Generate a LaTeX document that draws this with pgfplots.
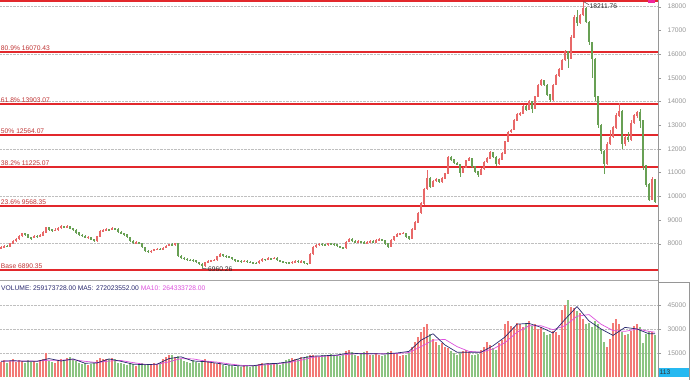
\documentclass[border=0pt]{standalone}
\usepackage{pgfplots}
\pgfplotsset{compat=1.18}
\usepackage{pgfplotstable}
\usepackage{fontspec}
\setmainfont{Liberation Sans}
\definecolor{upc}{RGB}{232,104,104}
\definecolor{dnc}{RGB}{104,160,84}
\definecolor{upv}{RGB}{242,122,118}
\definecolor{dnv}{RGB}{140,196,130}
\definecolor{fibred}{RGB}{226,40,44}
\definecolor{fibtxt}{RGB}{190,50,50}
\definecolor{navy}{RGB}{40,40,110}
\definecolor{ma10}{RGB}{220,80,220}
\definecolor{axgray}{RGB}{150,150,150}
\newcommand{\tf}{\fontsize{6.7}{8}\selectfont}
\pgfplotstableread{
x o h l c v
1 7820 7890 7790 7850 9500
4 7850 7940 7820 7900 10500
7 7900 7950 7840 7880 9000
10 7880 8040 7860 8000 10000
13 8000 8160 7970 8120 11000
16 8120 8250 8090 8200 9500
19 8200 8360 8170 8330 10500
22 8330 8460 8300 8420 10000
25 8420 8470 8340 8380 9000
28 8380 8400 8220 8260 10500
31 8260 8300 8150 8250 9500
34 8250 8360 8220 8320 10000
37 8320 8370 8250 8290 9000
40 8290 8400 8260 8350 10500
43 8350 8520 8330 8480 11000
46 8480 8720 8460 8680 15000
49 8680 8710 8550 8590 10000
52 8590 8620 8500 8550 9500
55 8550 8640 8520 8580 9000
58 8580 8700 8550 8660 10500
61 8660 8770 8630 8720 11000
64 8720 8760 8650 8700 10000
67 8700 8790 8680 8740 12000
70 8740 8760 8600 8640 12500
73 8640 8680 8540 8580 11500
76 8580 8600 8430 8470 10000
79 8470 8490 8320 8360 9000
82 8360 8400 8280 8330 8000
85 8330 8360 8220 8260 8500
88 8260 8330 8200 8280 7500
91 8280 8300 8140 8180 8000
94 8180 8200 8060 8110 9000
97 8110 8340 8090 8300 10500
100 8300 8580 8280 8540 12000
103 8540 8600 8500 8560 11500
106 8560 8640 8530 8600 11000
109 8600 8630 8540 8580 11500
112 8580 8690 8560 8640 12000
115 8640 8670 8580 8620 11000
118 8620 8640 8460 8500 9000
121 8500 8520 8400 8440 8500
124 8440 8460 8340 8380 8000
127 8380 8400 8230 8270 7500
130 8270 8290 8080 8120 8500
133 8120 8140 7990 8030 8000
136 8030 8100 8000 8060 7000
139 8060 8080 7970 8020 7500
142 8020 8040 7800 7850 8500
145 7850 7870 7650 7700 8000
148 7700 7730 7600 7650 7500
151 7650 7740 7610 7700 8000
154 7700 7790 7680 7750 8500
157 7750 7820 7720 7780 8000
160 7780 7810 7720 7760 9000
163 7760 7860 7740 7820 11000
166 7820 7940 7800 7900 12500
169 7900 8000 7880 7960 13500
172 7960 8010 7910 7950 14000
175 7950 8040 7920 8000 12500
178 8000 8010 7440 7480 13000
181 7480 7500 7350 7400 11000
184 7400 7430 7300 7350 10000
187 7350 7380 7270 7320 9500
190 7320 7350 7260 7300 9000
193 7300 7340 7240 7280 10500
196 7280 7300 7180 7220 9500
199 7220 7240 7100 7150 9000
202 7150 7170 6960.26 7060 10000
205 7060 7240 7030 7200 11000
208 7200 7290 7170 7250 10000
211 7250 7320 7220 7280 9000
214 7280 7350 7250 7300 8500
217 7300 7490 7280 7450 8000
220 7450 7600 7420 7560 8500
223 7560 7580 7440 7480 7500
226 7480 7510 7400 7450 7000
229 7450 7480 7380 7420 7500
232 7420 7440 7300 7350 7000
235 7350 7370 7240 7280 6500
238 7280 7310 7220 7260 7000
241 7260 7300 7200 7250 6500
244 7250 7310 7220 7270 7500
247 7270 7290 7190 7230 7000
250 7230 7260 7170 7210 6500
253 7210 7240 7150 7190 7000
256 7190 7230 7140 7180 7500
259 7180 7300 7160 7260 8000
262 7260 7380 7240 7340 8500
265 7340 7370 7290 7330 8000
268 7330 7420 7300 7380 8500
271 7380 7410 7320 7360 9000
274 7360 7450 7340 7400 8500
277 7400 7420 7260 7300 8000
280 7300 7320 7210 7250 7500
283 7250 7280 7170 7210 9500
286 7210 7240 7150 7200 10500
289 7200 7230 7140 7180 11000
292 7180 7270 7160 7230 12000
295 7230 7300 7200 7260 11500
298 7260 7290 7200 7240 11000
301 7240 7290 7210 7250 12500
304 7250 7270 7130 7180 12000
307 7180 7200 7100 7150 13000
310 7150 7600 7140 7560 14000
313 7560 7900 7540 7850 13500
316 7850 7990 7820 7950 13000
319 7950 8030 7920 7990 12500
322 7990 8020 7920 7960 13500
325 7960 8000 7910 7950 14000
328 7950 8040 7920 8000 13000
331 8000 8030 7940 7980 14500
334 7980 8010 7920 7960 13500
337 7960 7980 7860 7900 14000
340 7900 7920 7800 7850 13000
343 7850 7870 7760 7810 13500
346 7810 8120 7790 8080 16000
349 8080 8250 8050 8200 17000
352 8200 8230 8080 8120 15500
355 8120 8140 8020 8060 14000
358 8060 8150 8030 8100 13000
361 8100 8130 8040 8080 14500
364 8080 8100 7970 8010 15500
367 8010 8100 7980 8060 16000
370 8060 8160 8030 8120 14000
373 8120 8140 8010 8050 13500
376 8050 8190 8030 8150 15000
379 8150 8230 8120 8190 14000
382 8190 8210 8100 8140 13000
385 8140 8160 7960 8010 14000
388 8010 8030 7820 7860 15500
391 7860 8190 7840 8150 16000
394 8150 8340 8120 8300 15000
397 8300 8430 8270 8390 14500
400 8390 8460 8360 8420 13000
403 8420 8500 8400 8450 13500
406 8450 8470 8260 8300 14000
409 8300 8320 8150 8200 15000
412 8200 8650 8180 8600 19000
415 8600 8950 8580 8900 22000
418 8900 9350 8880 9300 25000
421 9300 9760 9260 9700 28000
424 9700 10350 9650 10300 31000
427 10300 11100 10250 10750 33000
430 10750 10800 10350 10400 27000
433 10400 10700 10380 10650 24000
436 10650 10760 10620 10700 22000
439 10700 10740 10560 10600 20000
442 10600 10800 10570 10750 21000
445 10750 11000 10720 10950 19000
448 10950 11700 10930 11650 18000
451 11650 11700 11500 11550 16000
454 11550 11580 11350 11400 15000
457 11400 11430 11300 11350 14000
460 11350 11380 10800 11000 15000
463 11000 11250 10970 11200 16500
466 11200 11550 11180 11500 17000
469 11500 11650 11470 11600 15500
472 11600 11620 11200 11250 14000
475 11250 11280 11000 11050 13500
478 11050 11080 10800 10900 14500
481 10900 11200 10880 11150 17000
484 11150 11500 11120 11450 19000
487 11450 11650 11420 11600 22000
490 11600 11920 11580 11850 20000
493 11850 11880 11600 11650 18000
496 11650 11680 11280 11350 17000
499 11350 11600 11320 11550 21000
502 11550 11850 11530 11800 23000
505 11800 12350 11780 12300 33000
508 12300 12760 12280 12700 35000
511 12700 12850 12650 12800 32000
514 12800 13260 12780 13200 31000
517 13200 13500 13180 13450 34000
520 13450 13560 13400 13500 33000
523 13500 13850 13480 13800 31000
526 13800 13830 13600 13650 34000
529 13650 14050 13630 14000 35000
532 14000 14020 13530 13700 32000
535 13700 14250 13680 14200 33000
538 14200 14750 14180 14700 30000
541 14700 14950 14650 14880 31000
544 14880 14900 14650 14700 28000
547 14700 14720 14250 14300 26000
550 14300 14330 13980 14050 27000
553 14050 14750 14030 14700 29000
556 14700 15150 14680 15100 28000
559 15100 15400 15050 15350 26000
562 15350 15800 15330 15750 42000
565 15750 16150 15720 16100 45000
568 16100 16130 15400 15800 48000
571 15800 16800 15780 16700 44000
574 16700 17650 16680 17550 43000
577 17550 17850 17200 17300 41000
580 17300 17700 17250 17650 40000
583 17650 18211.76 17600 17950 36000
586 17950 17980 17300 17350 33000
589 17350 17380 16400 16500 34000
592 16500 16520 15000 15800 31000
595 15800 15850 14000 14200 35000
598 14200 14250 12900 13000 33000
601 13000 13050 11800 11900 30000
604 11900 11950 10950 11350 22000
607 11350 12300 11300 12200 19000
610 12200 12800 12150 12500 24000
613 12500 12950 12450 12900 34000
616 12900 13500 12850 13400 36000
619 13400 13950 13350 13600 33000
622 13600 13620 12000 12200 28000
625 12200 12600 12100 12500 26000
628 12500 12700 12300 12400 27000
631 12400 13200 12350 13100 29000
634 13100 13450 13050 13400 32000
637 13400 13600 13300 13550 33000
640 13550 13700 12900 13200 31000
643 13200 13220 11100 11300 21000
646 11300 11320 10400 10500 27000
649 10500 10550 9800 9850 29000
652 9850 10800 9830 10700 28000
655 10700 10720 9700 9750 26000
}\kdata
\pgfplotstableread{
x m5 m10
1 9800 9900
13 10200 10000
25 9800 10000
37 9800 9900
49 11500 10500
61 10000 10500
73 11300 10800
85 8600 9800
97 8800 9000
109 11300 10000
121 9800 10300
133 8000 9000
145 7700 7900
157 8000 7900
169 11500 9500
181 12600 11500
193 10000 11300
205 9600 10000
217 8600 9300
229 7500 8200
241 6900 7300
253 7000 7000
265 8200 7600
277 8500 8300
289 9500 9000
301 11800 10500
313 13000 12300
325 13300 13000
337 13700 13500
349 15000 14200
361 14500 14700
373 14500 14500
385 14400 14500
397 15000 14700
409 16000 15300
421 23000 19000
433 27000 23000
445 20000 23500
457 15500 19000
469 15500 16000
481 15500 15500
493 19500 17500
505 25000 21500
517 33000 28000
529 33500 32000
541 31000 32000
553 27500 29500
565 36000 32000
577 44000 38000
589 35000 39000
601 30000 33000
613 26000 29000
625 31000 28500
637 30000 30000
649 27000 28500
655 27000 28000
}\madata
\begin{document}
\begin{tikzpicture}[x=1pt,y=1pt]
\path[use as bounding box] (0,0) rectangle (691,380);
% ---------------- price pane ----------------
\begin{axis}[
  at={(0pt,100pt)}, anchor=south west,
  width=658pt, height=280pt, scale only axis,
  xmin=0, xmax=658, ymin=6466, ymax=18280,
  axis x line=none, axis y line*=right,
  axis line style={axgray, -},
  ytick={8000,9000,...,18000},
  yticklabels={8000,9000,10000,11000,12000,13000,14000,15000,16000,17000,18000},
  scaled y ticks=false,
  ytick align=outside, major tick length=3pt,
  tick style={axgray},
  yticklabel style={font=\tf, text=axgray, xshift=3pt},
  extra y ticks={8000,10000,12000,14000,16000,18000},
  extra y tick labels={},
  extra y tick style={grid=major, major tick length=0pt},
  major grid style={densely dotted, black!25},
]
% Fibonacci levels
\addplot[fibred, line width=2pt] coordinates {(0,18237.85) (658,18237.85)};
\addplot[fibred, line width=2pt] coordinates {(0,16070.43) (658,16070.43)};
\addplot[fibred, line width=2pt] coordinates {(0,13903.07) (658,13903.07)};
\addplot[fibred, line width=2pt] coordinates {(0,12564.07) (658,12564.07)};
\addplot[fibred, line width=2pt] coordinates {(0,11225.07) (658,11225.07)};
\addplot[fibred, line width=2pt] coordinates {(0,9568.35) (658,9568.35)};
\addplot[fibred, line width=2pt] coordinates {(0,6890.35) (658,6890.35)};
\node[anchor=south west, inner sep=0.8pt, yshift=0.5pt, font=\tf, text=fibtxt] at (axis cs:0,16070.43) {80.9\% 16070.43};
\node[anchor=south west, inner sep=0.8pt, yshift=0.5pt, font=\tf, text=fibtxt] at (axis cs:0,13903.07) {61.8\% 13903.07};
\node[anchor=south west, inner sep=0.8pt, yshift=0.5pt, font=\tf, text=fibtxt] at (axis cs:0,12564.07) {50\% 12564.07};
\node[anchor=south west, inner sep=0.8pt, yshift=0.5pt, font=\tf, text=fibtxt] at (axis cs:0,11225.07) {38.2\% 11225.07};
\node[anchor=south west, inner sep=0.8pt, yshift=0.5pt, font=\tf, text=fibtxt] at (axis cs:0,9568.35) {23.6\% 9568.35};
\node[anchor=south west, inner sep=0.8pt, yshift=0.5pt, font=\tf, text=fibtxt] at (axis cs:0,6890.35) {Base 6890.35};
% candles: wicks
\addplot[draw=none, mark=none, x filter/.expression={(\thisrow{c}>=\thisrow{o}) ? x : nan},
  error bars/.cd, y dir=both, y explicit, error mark=none, error bar style={draw=upc, line width=0.6pt}]
  table[x=x, y=c, y error plus expr=\thisrow{h}-\thisrow{c}, y error minus expr=\thisrow{c}-\thisrow{l}] {\kdata};
\addplot[draw=none, mark=none, x filter/.expression={(\thisrow{c}<\thisrow{o}) ? x : nan},
  error bars/.cd, y dir=both, y explicit, error mark=none, error bar style={draw=dnc, line width=0.6pt}]
  table[x=x, y=c, y error plus expr=\thisrow{h}-\thisrow{c}, y error minus expr=\thisrow{c}-\thisrow{l}] {\kdata};
% candles: bodies
\addplot[draw=none, mark=none, x filter/.expression={(\thisrow{c}>=\thisrow{o}) ? x : nan},
  error bars/.cd, y dir=both, y explicit, error mark=none, error bar style={draw=upc, line width=1.7pt}]
  table[x=x, y expr=(\thisrow{o}+\thisrow{c})/2, y error expr=abs(\thisrow{c}-\thisrow{o})/2+10] {\kdata};
\addplot[draw=none, mark=none, x filter/.expression={(\thisrow{c}<\thisrow{o}) ? x : nan},
  error bars/.cd, y dir=both, y explicit, error mark=none, error bar style={draw=dnc, line width=1.7pt}]
  table[x=x, y expr=(\thisrow{o}+\thisrow{c})/2, y error expr=abs(\thisrow{c}-\thisrow{o})/2+10] {\kdata};
% high / low annotations
\draw[black!75, line width=0.5pt] (axis cs:583.5,18211.76) -- (axis cs:589,18080);
\node[anchor=west, inner sep=0.5pt, font=\tf, text=black!85] at (axis cs:589,18020) {18211.76};
\draw[black!75, line width=0.5pt] (axis cs:202,6960.26) -- (axis cs:208,6930);
\node[anchor=west, inner sep=0.5pt, font=\tf, text=black!85] at (axis cs:207.5,6935) {6960.26};
\fill[magenta!85] (axis cs:648,18165) rectangle (axis cs:655,18290);
\end{axis}
% ---------------- volume pane ----------------
\begin{axis}[
  at={(0pt,3pt)}, anchor=south west,
  width=658pt, height=97pt, scale only axis,
  xmin=0, xmax=658, ymin=0, ymax=60600,
  axis x line=none, axis y line*=right,
  axis line style={axgray, -},
  ytick={15000,30000,45000},
  yticklabels={15000,30000,45000},
  scaled y ticks=false,
  ytick align=outside, major tick length=3pt,
  tick style={axgray},
  yticklabel style={font=\tf, text=axgray, xshift=3pt},
  ymajorgrids, major grid style={densely dotted, black!25},
]
\addplot[ycomb, line width=2pt, upv, x filter/.expression={(\thisrow{c}>=\thisrow{o}) ? x : nan}] table[x=x, y=v] {\kdata};
\addplot[ycomb, line width=2pt, dnv, x filter/.expression={(\thisrow{c}<\thisrow{o}) ? x : nan}] table[x=x, y=v] {\kdata};
\addplot[ma10, line width=0.7pt] table[x=x, y=m10] {\madata};
\addplot[navy, line width=0.7pt] table[x=x, y=m5] {\madata};
\end{axis}
% frame pieces
\draw[black!35, line width=0.6pt] (0,100) -- (658,100);
\draw[axgray, line width=0.6pt] (658,98) -- (689,98) -- (689,0);
\fill[cyan!85] (658.5,3) rectangle (689,12);
\node[anchor=west, inner sep=0.5pt, font=\tf, text=black!80] at (659,7.5) {113};
\node[anchor=base west, inner sep=0pt, font=\tf] at (1,89) {\textcolor{navy}{VOLUME: 259173728.00 MA5: 272023552.00} \textcolor{ma10}{MA10: 264333728.00}};
\end{tikzpicture}
\end{document}
